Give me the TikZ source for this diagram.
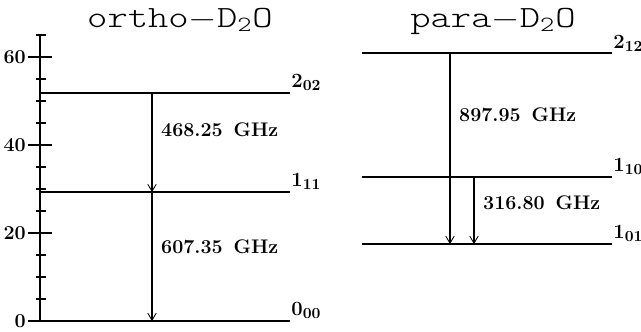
\documentclass[tikz,border=0pt]{standalone}
\usepackage{amsmath}
\usepackage{graphicx}
\usepackage{tikz}
\usetikzlibrary{arrows.meta,positioning,calc}

\begin{document}
\begin{tikzpicture}[x=0.025cm, y=0.11cm,
  >={Straight Barb[length=5pt, width=6pt, line width=0.6pt]},
  level/.style={line width=1.4pt},
  trans/.style={line width=1.1pt, ->},
  lvlabel/.style={anchor=south west, inner xsep=0.3pt, inner ysep=1pt, font=\fontsize{15}{15}\selectfont\bfseries\boldmath},
  freq/.style={anchor=west, inner sep=0pt, xshift=6pt, font=\fontsize{14}{14}\selectfont\bfseries},
  ticklbl/.style={anchor=east, inner sep=1pt, font=\fontsize{14}{14}\selectfont\bfseries},
  ttl/.style={anchor=base, inner sep=0pt, font=\fontsize{22}{24}\selectfont\ttfamily\fontseries{l}\selectfont}]
\useasboundingbox (0,-2.27) rectangle (641,72.95);
% titulos
\node[ttl] (tortho) at (180,66.8) {\scalebox{1.25}[1]{ortho$-$D$_{\texttt{2}}$O}};
\node[ttl] (tpara) at (493,66.8) {\scalebox{1.25}[1]{para$-$D$_{\texttt{2}}$O}};
% eje de energia
\coordinate (ax0) at (40,0);
\coordinate (ax1) at (40,65);
\draw[line width=1.5pt] (ax0) -- (ax1);
\foreach \v in {5,10,...,65}
  \draw[line width=1.2pt] (36,\v) -- (46,\v);
\foreach \v in {0,20,40,60}
  \draw[line width=1.2pt] (28,\v) node[ticklbl] {\v} -- (52,\v);
% niveles orto
\foreach \n/\e/\lbl in {o000/0/0_{00}, o111/29.3/1_{11}, o202/51.75/2_{02}}{
  \coordinate (\n-l) at (40,\e);
  \coordinate (\n-r) at (290,\e);
  \draw[level] (\n-l) -- (\n-r) node[lvlabel] (\n) {$\lbl$};
}
% niveles para
\foreach \n/\e/\lbl in {p101/17.5/1_{01}, p110/32.8/1_{10}, p212/60.8/2_{12}}{
  \coordinate (\n-l) at (362,\e);
  \coordinate (\n-r) at (612,\e);
  \draw[level] (\n-l) -- (\n-r) node[lvlabel] (\n) {$\lbl$};
}
% transiciones
\path (152,0) coordinate (xo) (450,0) coordinate (xpa) (474,0) coordinate (xpb);
\draw[trans] (o202-l -| xo) -- node[freq, pos=0.372] (f468) {468.25\hspace{0.55em}GHz} (o111-l -| xo);
\draw[trans] (o111-l -| xo) -- node[freq, pos=0.427] (f607) {607.35\hspace{0.55em}GHz} (o000-l -| xo);
\draw[trans] (p212-l -| xpa) -- node[freq, pos=0.323] (f898) {897.95\hspace{0.55em}GHz} (p101-l -| xpa);
\draw[trans] (p110-l -| xpb) -- node[freq, pos=0.39] (f317) {316.80\hspace{0.55em}GHz} (p101-l -| xpb);
\end{tikzpicture}
\end{document}
